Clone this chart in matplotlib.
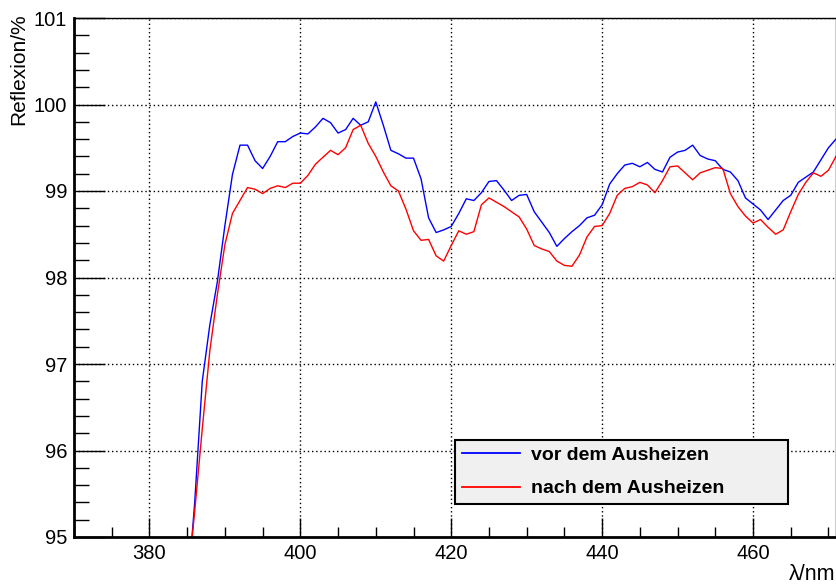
import numpy as np
import matplotlib
matplotlib.use("Agg")
import matplotlib.pyplot as plt
from matplotlib.ticker import MultipleLocator

plt.rcParams["font.family"] = ["Liberation Sans", "DejaVu Sans"]

# ── Data (1 nm steps) ────────────────────────────────────────────────────────
wavelength = np.arange(384, 472)

vor = [93.2, 94.3, 95.4, 96.8, 97.45, 97.95, 98.6, 99.19, 99.53, 99.53,
       99.35, 99.26, 99.40, 99.57, 99.57, 99.63, 99.67, 99.66, 99.74, 99.84,
       99.79, 99.67, 99.71, 99.84, 99.76, 99.80, 100.03, 99.76, 99.47, 99.43,
       99.38, 99.38, 99.14, 98.69, 98.52, 98.55, 98.59, 98.74, 98.91, 98.89,
       98.98, 99.11, 99.12, 99.01, 98.89, 98.95, 98.96, 98.76, 98.64, 98.52,
       98.36, 98.45, 98.53, 98.60, 98.69, 98.72, 98.84, 99.08, 99.20, 99.30,
       99.32, 99.28, 99.33, 99.25, 99.22, 99.39, 99.45, 99.47, 99.53, 99.41,
       99.37, 99.35, 99.25, 99.22, 99.12, 98.92, 98.85, 98.78, 98.67, 98.78,
       98.89, 98.95, 99.10, 99.16, 99.22, 99.36, 99.50, 99.60]

nach = [93.5, 94.4, 95.3, 96.25, 97.15, 97.8, 98.38, 98.74, 98.89, 99.04,
        99.02, 98.97, 99.03, 99.06, 99.04, 99.09, 99.09, 99.18, 99.31, 99.39,
        99.47, 99.42, 99.50, 99.71, 99.76, 99.55, 99.40, 99.22, 99.06, 99.00,
        98.79, 98.54, 98.43, 98.44, 98.25, 98.19, 98.37, 98.54, 98.50, 98.53,
        98.84, 98.92, 98.87, 98.82, 98.76, 98.70, 98.56, 98.37, 98.33, 98.30,
        98.19, 98.14, 98.13, 98.26, 98.47, 98.59, 98.60, 98.74, 98.95, 99.03,
        99.05, 99.10, 99.07, 98.98, 99.12, 99.28, 99.29, 99.21, 99.13, 99.21,
        99.24, 99.27, 99.26, 98.97, 98.82, 98.71, 98.63, 98.67, 98.58, 98.50,
        98.55, 98.76, 98.96, 99.10, 99.21, 99.17, 99.24, 99.40]

labels = ["vor dem Ausheizen", "nach dem Ausheizen"]

# ── Figure ───────────────────────────────────────────────────────────────────
fig = plt.figure(figsize=(8.36, 5.86), dpi=100)
fig.patch.set_facecolor("white")
ax = fig.add_axes([74 / 836, 1 - 537 / 586, 762 / 836, 519 / 586])

ax.plot(wavelength, vor, color="#0000ff", lw=1.0, label=labels[0])
ax.plot(wavelength, nach, color="#ff0000", lw=1.0, label=labels[1])

ax.set_xlim(370, 471)
ax.set_ylim(95, 101)
ax.xaxis.set_major_locator(MultipleLocator(20))
ax.xaxis.set_minor_locator(MultipleLocator(5))
ax.yaxis.set_major_locator(MultipleLocator(1))
ax.yaxis.set_minor_locator(MultipleLocator(0.2))

ax.grid(True, which="major", color="black", lw=1.0, linestyle=(0, (1, 2)))
ax.tick_params(which="both", direction="in", top=False, right=False,
               labelsize=14.5, color="black", pad=5)
ax.tick_params(axis="y", which="major", length=22, width=1)
ax.tick_params(axis="y", which="minor", length=11, width=1)
ax.tick_params(axis="x", which="major", length=14, width=1)
ax.tick_params(axis="x", which="minor", length=7, width=1)

ax.spines["left"].set_linewidth(2)
ax.spines["bottom"].set_linewidth(2)
ax.spines["top"].set_linewidth(1)
ax.spines["right"].set_linewidth(1)

fig.text(835 / 836, 1 - 575 / 586, "λ/nm", ha="right", va="center", fontsize=15.5)
fig.text(19 / 836, 1 - 13 / 586, "Reflexion/%", ha="center", va="top",
         rotation=90, fontsize=15)

leg = ax.legend(loc="center", bbox_to_anchor=(0.5, 0.0617, 0.437, 0.127),
                mode="expand", prop={"weight": "bold", "size": 14},
                fancybox=False, framealpha=1, facecolor="#f0f0f0",
                edgecolor="black", handlelength=3.0, handletextpad=0.55,
                labelspacing=0.8, borderpad=0.35, borderaxespad=0)
leg.get_frame().set_linewidth(1.5)
for h in leg.get_lines():
    h.set_linewidth(1.3)

fig.savefig("out.png", dpi=100)
